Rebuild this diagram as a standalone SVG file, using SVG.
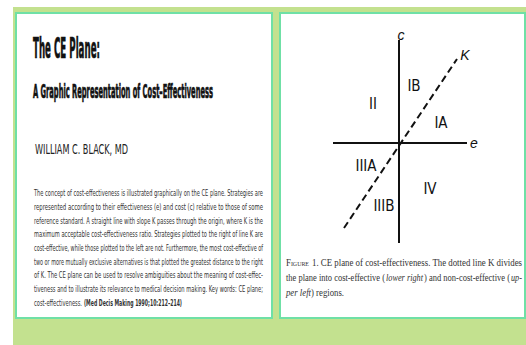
<svg xmlns="http://www.w3.org/2000/svg" width="526" height="345" viewBox="0 0 526 345">
<style>
.panel{fill:#ffffff;stroke:#6fe0a6;stroke-width:2}
.hd{font-family:"Liberation Sans Narrow","DejaVu Sans Condensed","Liberation Sans",sans-serif;font-weight:bold;fill:#111;stroke:#111;stroke-width:0.7}
.nm{font-family:"Liberation Sans Narrow","DejaVu Sans Condensed","Liberation Sans",sans-serif;fill:#222}
.ab{font-family:"Liberation Sans Narrow","DejaVu Sans Condensed","Liberation Sans",sans-serif;font-size:9.5px;fill:#333}
.rl{font-family:"Liberation Sans Narrow","DejaVu Sans Condensed","Liberation Sans",sans-serif;font-size:15px;fill:#111}
.ax{font-family:"Liberation Sans","DejaVu Sans",sans-serif;font-style:italic;font-size:14px;fill:#111}
.cap{font-family:"Liberation Serif","DejaVu Serif",serif;font-size:10.4px;fill:#333}
.it{font-style:italic}
.sc{font-variant:small-caps}
.axis{stroke:#111;stroke-width:2;fill:none}
.k{stroke:#111;stroke-width:2;stroke-dasharray:7 4;fill:none}
</style>
<rect x="0" y="0" width="526" height="345" fill="#ffffff"/>
<rect x="13" y="7" width="513" height="338" fill="#c3e18f"/>
<g id="left-panel">
<rect class="panel" x="16" y="13" width="256" height="305"/>
<text class="hd" x="33" y="58" font-size="29" textLength="67" lengthAdjust="spacingAndGlyphs">The CE Plane:</text>
<text class="hd" x="33" y="98" font-size="19" stroke-width="0.5" textLength="180" lengthAdjust="spacingAndGlyphs">A Graphic Representation of Cost–Effectiveness</text>
<text class="nm" x="35" y="154" font-size="14" textLength="93" lengthAdjust="spacingAndGlyphs">WILLIAM C. BLACK, MD</text>
<g id="abstract">
<text class="ab" x="34" y="196" textLength="229" lengthAdjust="spacingAndGlyphs">The concept of cost-effectiveness is illustrated graphically on the CE plane. Strategies are</text>
<text class="ab" x="34" y="210" textLength="229" lengthAdjust="spacingAndGlyphs">represented according to their effectiveness (e) and cost (c) relative to those of some</text>
<text class="ab" x="34" y="223.5" textLength="229" lengthAdjust="spacingAndGlyphs">reference standard. A straight line with slope K passes through the origin, where K is the</text>
<text class="ab" x="34" y="237" textLength="229" lengthAdjust="spacingAndGlyphs">maximum acceptable cost-effectiveness ratio. Strategies plotted to the right of line K are</text>
<text class="ab" x="34" y="251" textLength="229" lengthAdjust="spacingAndGlyphs">cost-effective, while those plotted to the left are not. Furthermore, the most cost-effective of</text>
<text class="ab" x="34" y="264.5" textLength="229" lengthAdjust="spacingAndGlyphs">two or more mutually exclusive alternatives is that plotted the greatest distance to the right</text>
<text class="ab" x="34" y="278" textLength="229" lengthAdjust="spacingAndGlyphs">of K. The CE plane can be used to resolve ambiguities about the meaning of cost-effec-</text>
<text class="ab" x="34" y="292" textLength="229" lengthAdjust="spacingAndGlyphs">tiveness and to illustrate its relevance to medical decision making. Key words: CE plane;</text>
<text class="ab" x="34" y="305.5" textLength="48" lengthAdjust="spacingAndGlyphs">cost-effectiveness.</text>
<text class="ab" x="84" y="305.5" font-weight="bold" textLength="98" lengthAdjust="spacingAndGlyphs">(Med Decis Making 1990;10:212–214)</text>
</g>
</g>
<g id="right-panel">
<rect class="panel" x="280" y="13" width="245" height="305"/>
</g>
<g id="connectors">
<line class="axis" x1="399" y1="40" x2="399" y2="243"/>
<line class="axis" x1="333" y1="143" x2="467" y2="143"/>
<line class="k" x1="344" y1="228" x2="457" y2="59"/>
</g>
<g id="axis-labels">
<text class="ax" x="401" y="40" text-anchor="middle">c</text>
<text class="ax" x="474" y="148" text-anchor="middle">e</text>
<text class="ax" x="465" y="60" text-anchor="middle">K</text>
</g>
<g id="region-IB"><text class="rl" x="414" y="91" text-anchor="middle">IB</text></g>
<g id="region-II"><text class="rl" x="373" y="109" text-anchor="middle">II</text></g>
<g id="region-IA"><text class="rl" x="441" y="128" text-anchor="middle">IA</text></g>
<g id="region-IIIA"><text class="rl" x="366" y="171" text-anchor="middle">IIIA</text></g>
<g id="region-IIIB"><text class="rl" x="384" y="211" text-anchor="middle">IIIB</text></g>
<g id="region-IV"><text class="rl" x="430" y="194" text-anchor="middle">IV</text></g>
<g id="caption">
<text class="cap sc" x="286" y="266" textLength="23" lengthAdjust="spacingAndGlyphs">Figure</text>
<text class="cap" x="312" y="266" textLength="210" lengthAdjust="spacingAndGlyphs">1. CE plane of cost-effectiveness. The dotted line K divides</text>
<text class="cap" x="286" y="281" textLength="99" lengthAdjust="spacingAndGlyphs">the plane into cost-effective (</text>
<text class="cap it" x="386" y="281" textLength="37" lengthAdjust="spacingAndGlyphs">lower right</text>
<text class="cap" x="424" y="281" textLength="86" lengthAdjust="spacingAndGlyphs">) and non-cost-effective (</text>
<text class="cap it" x="511" y="281" textLength="11" lengthAdjust="spacingAndGlyphs">up-</text>
<text class="cap it" x="286" y="296" textLength="25" lengthAdjust="spacingAndGlyphs">per left</text>
<text class="cap" x="311" y="296" textLength="33" lengthAdjust="spacingAndGlyphs">) regions.</text>
</g>
</svg>
